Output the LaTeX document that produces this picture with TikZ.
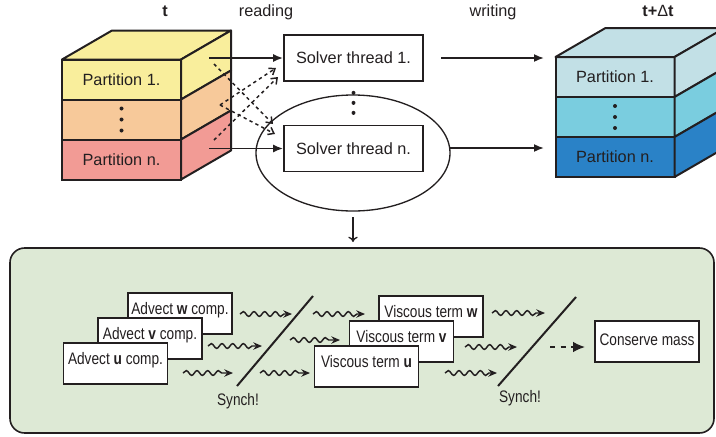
\documentclass[tikz,border=0pt]{standalone}
\usepackage{fontspec}
\setmainfont{Liberation Sans}
\newfontfamily\narrowsf[FakeStretch=0.82]{Liberation Sans}
\usetikzlibrary{positioning, arrows.meta, decorations.pathmorphing, shapes.geometric}
\definecolor{ink}{RGB}{35,31,32}
\definecolor{partyellow}{RGB}{249,238,156}
\definecolor{partorange}{RGB}{247,201,154}
\definecolor{partred}{RGB}{242,155,149}
\definecolor{partpale}{RGB}{194,224,230}
\definecolor{partcyan}{RGB}{122,205,223}
\definecolor{partblue}{RGB}{42,130,199}
\definecolor{panelgreen}{RGB}{221,233,213}

\begin{document}
\begin{tikzpicture}[x=0.75pt, y=-0.75pt,
      layer/.style={rectangle, draw=ink, line width=1.5pt, outer sep=0pt, inner sep=0pt, minimum width=89.25pt, minimum height=30pt, font=\fontsize{12.2}{14}\selectfont, text=ink},
      face/.style={draw=ink, line width=1.5pt, line join=round},
      thread/.style={rectangle, draw=ink, fill=white, line width=1.3pt, minimum width=104.25pt, minimum height=34.5pt, font=\fontsize{12.2}{14}\selectfont, text=ink},
      caption/.style={anchor=base, inner sep=0pt, font=\fontsize{12.2}{14}\selectfont, text=ink},
      stage/.style={rectangle, draw=ink, fill=white, line width=1.2pt, minimum width=78pt, inner xsep=2pt, inner ysep=0pt, text height=15.75pt, text depth=15pt, font=\narrowsf\fontsize{12.5}{14}\selectfont, text=ink},
      note/.style={inner sep=0pt, font=\narrowsf\fontsize{12.5}{14}\selectfont, text=ink},
      arrow/.style={-{Latex[length=7.5pt, width=6pt]}, line width=1.3pt, draw=ink},
      fetch/.style={-{Straight Barb[length=4pt, width=6pt]}, line width=1.1pt, dash pattern=on 2.5pt off 2.5pt, draw=ink},
      wave/.style={-{Stealth[length=6.5pt, width=5.5pt]}, line width=1.1pt, draw=ink, decorate, decoration={snake, amplitude=1.8pt, segment length=8pt, post length=6pt}}
   ]
      \useasboundingbox (0,0) rectangle (716,436);
      \clip (0,0) rectangle (716,436);

      % Time labels
      \node (tnow)    [caption] at (165,16) {\textbf{t}};
      \node (reading) [caption] at (266,16) {reading};
      \node (writing) [caption] at (493,16) {writing};
      \node (tnext)   [caption] at (658,16) {\textbf{t+}Δ\textbf{t}};

      % Left cube (time t)
      \node (p1)    [layer, fill=partyellow] at (121.5,79.5)  {Partition 1.};
      \node (pdots) [layer, fill=partorange] at (121.5,119.5) {};
      \node (pn)    [layer, fill=partred]    at (121.5,159.5) {Partition n.};
      \draw[face, fill=partyellow] (p1.north west) -- ++(50,-29) -- ++(119,0) -- (p1.north east) -- cycle;
      \draw[face, fill=partyellow] (p1.north east) -- ++(50,-29) -- ++(0,40) -- (p1.south east) -- cycle;
      \draw[face, fill=partorange] (pdots.north east) -- ++(50,-29) -- ++(0,40) -- (pdots.south east) -- cycle;
      \draw[face, fill=partred]    (pn.north east) -- ++(50,-29) -- ++(0,40) -- (pn.south east) -- cycle;
      \fill[ink] (pdots.center) ++(0,-11) circle (1.5pt) ++(0,11) circle (1.5pt) ++(0,11) circle (1.5pt);

      % Right cube (time t+dt), cut by the page edge
      \node (q1)    [layer, fill=partpale] at (615,77)  {Partition 1.};
      \node (qdots) [layer, fill=partcyan] at (615,117) {};
      \node (qn)    [layer, fill=partblue] at (615,157) {Partition n.};
      \draw[face, fill=partpale] (q1.north west) -- ++(50,-29) -- ++(120,0) -- (q1.north east) -- cycle;
      \draw[face, fill=partpale] (q1.north east) -- ++(50,-29) -- ++(0,40) -- (q1.south east) -- cycle;
      \draw[face, fill=partcyan] (qdots.north east) -- ++(50,-29) -- ++(0,40) -- (qdots.south east) -- cycle;
      \draw[face, fill=partblue] (qn.north east) -- ++(50,-29) -- ++(0,40) -- (qn.south east) -- cycle;
      \fill[ink] (qdots.center) ++(0,-11) circle (1.5pt) ++(0,11) circle (1.5pt) ++(0,11) circle (1.5pt);

      % Solver threads
      \node (ring)    [ellipse, draw=ink, line width=1pt, inner sep=0pt, minimum width=145.5pt, minimum height=87pt] at (353,153) {};
      \node (thread1) [thread] at (353.5,58)    {Solver thread 1.};
      \node (threadn) [thread] at (353.5,148.5) {Solver thread n.};
      \fill[ink] (thread1.south) ++(0,11) circle (1.5pt) ++(0,10) circle (1.5pt) ++(0,10) circle (1.5pt);

      % Reading: own partition solid, other partitions dashed
      \coordinate (rd1) at (209,58);
      \coordinate (rdn) at (209,148.5);
      \draw[arrow] (rd1) -- (thread1.west);
      \draw[arrow] (rdn) -- (threadn.west);
      \coordinate (src1)  at (214,64);
      \coordinate (srcm)  at (220,105);
      \coordinate (srcn)  at (214,140);
      \coordinate (tip1a) at (276,68);
      \coordinate (tip1b) at (278,77);
      \coordinate (tipna) at (273,124);
      \coordinate (tipnb) at (275,134);
      \draw[fetch] (src1) -- (tipna);
      \draw[fetch] (srcm) -- (tipnb);
      \draw[fetch] (srcm) -- (tip1a);
      \draw[fetch] (srcn) -- (tip1b);

      % Writing
      \coordinate (wr1)  at (441,58);
      \coordinate (wrn)  at (450,148);
      \coordinate (out1) at (544,58);
      \coordinate (outn) at (544,148);
      \draw[arrow] (wr1) -- (out1);
      \draw[arrow] (wrn) -- (outn);

      % Zoom into one thread
      \coordinate (zoomend) at (353,242);
      \draw[-{To[length=4pt, width=7pt]}, line width=1pt, draw=ink] ([yshift=-4pt]ring.south) -- (zoomend);

      % Thread detail panel
      \draw[draw=ink, fill=panelgreen, line width=1.2pt, rounded corners=11pt] (10,248) rectangle (714,433);

      % Advection stage
      \node (advw) [stage] at (180,313.5)   {Advect \textbf{w} comp.};
      \node (advv) [stage] at (150,338.5)   {Advect \textbf{v} comp.};
      \node (advu) [stage] at (115.5,363.5) {Advect \textbf{u} comp.};

      % Viscous stage
      \node (visw) [stage] at (431,316.5)   {Viscous term \textbf{w}};
      \node (visv) [stage] at (401.5,341.5) {Viscous term \textbf{v}};
      \node (visu) [stage] at (366.5,366.5) {Viscous term \textbf{u}};

      % Mass conservation
      \node (mass) [stage, text height=8.5pt, text depth=3pt, minimum height=30.75pt] at (647,341.5) {Conserve mass};

      % Synchronisation barriers
      \draw[ink, line width=1.5pt] (237,386) -- (313,296);
      \draw[ink, line width=1.5pt] (498,386) -- (576,297);
      \node (synch1) [note] at (238,401) {Synch!};
      \node (synch2) [note] at (520,398) {Synch!};

      % Wavy arrows, advection -> barrier 1
      \coordinate (w1a) at (240,314); \coordinate (w1b) at (292,314);
      \coordinate (v1a) at (208,346); \coordinate (v1b) at (262,346);
      \coordinate (u1a) at (183,373); \coordinate (u1b) at (233,373);
      \draw[wave] (w1a) -- (w1b);
      \draw[wave] (v1a) -- (v1b);
      \draw[wave] (u1a) -- (u1b);

      % Wavy arrows, barrier 1 -> viscous
      \coordinate (w2a) at (313,314); \coordinate (w2b) at (365,314);
      \coordinate (v2a) at (290,340); \coordinate (v2b) at (340,340);
      \coordinate (u2a) at (260,373); \coordinate (u2b) at (310,373);
      \draw[wave] (w2a) -- (w2b);
      \draw[wave] (v2a) -- (v2b);
      \draw[wave] (u2a) -- (u2b);

      % Wavy arrows, viscous -> barrier 2
      \coordinate (w3a) at (492,313); \coordinate (w3b) at (545,313);
      \coordinate (v3a) at (465,347); \coordinate (v3b) at (517,347);
      \coordinate (u3a) at (445,373); \coordinate (u3b) at (497,373);
      \draw[wave] (w3a) -- (w3b);
      \draw[wave] (v3a) -- (v3b);
      \draw[wave] (u3a) -- (u3b);

      % Barrier 2 -> conserve mass
      \coordinate (ma) at (550,347);
      \coordinate (mb) at (585,347);
      \draw[-{Latex[length=9pt, width=8pt]}, line width=1.2pt, draw=ink, dash pattern=on 4pt off 4pt] (ma) -- (mb);
   \end{tikzpicture}
\end{document}
